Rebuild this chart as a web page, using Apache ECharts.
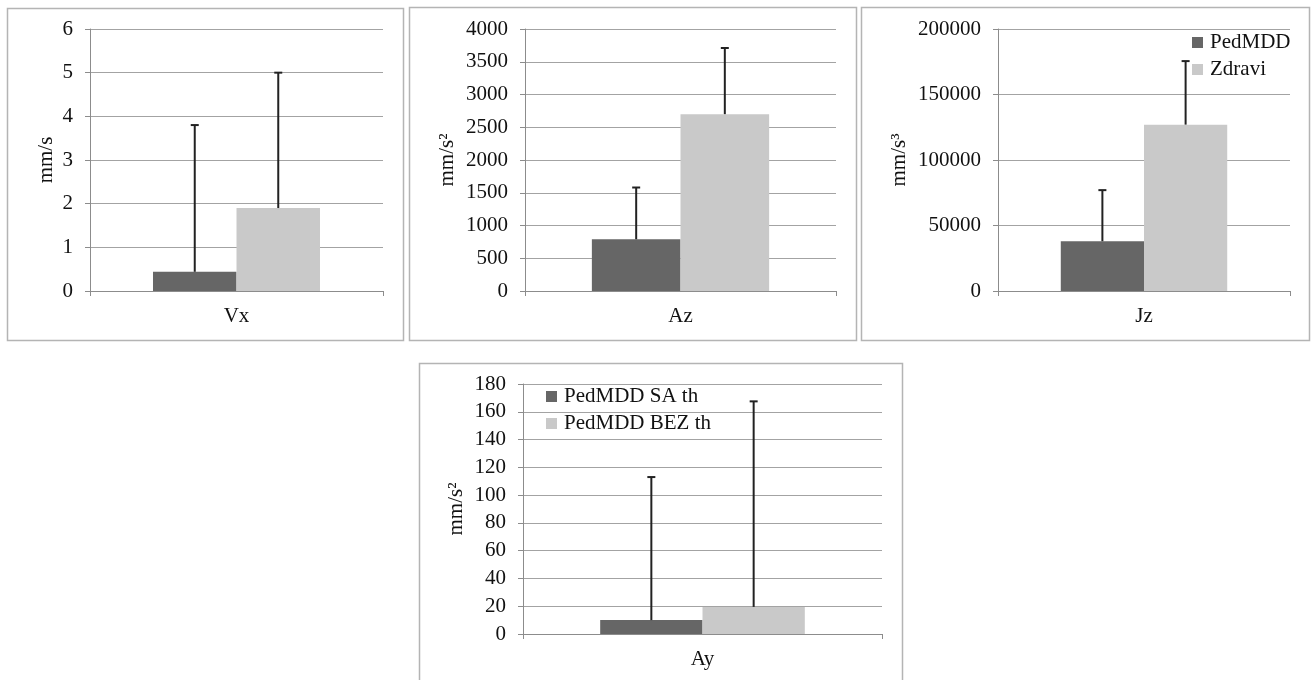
<!DOCTYPE html>
<html>
<head>
<meta charset="utf-8">
<script src="https://cdn.jsdelivr.net/npm/echarts@6/dist/echarts.min.js"></script>
<style>
  html, body { margin: 0; padding: 0; background: #ffffff; }
  #chart { width: 1312px; height: 680px; }
</style>
</head>
<body>
<div id="chart"></div>
<script>
// ---- data ----
const categories = ['Vx', 'Az', 'Jz', 'Ay'];
const yAxisNames = ['mm/s', 'mm/s\u00B2', 'mm/s\u00B3', 'mm/s\u00B2'];
const seriesNamesTop = ['PedMDD', 'Zdravi'];
const seriesNamesBottom = ['PedMDD SA th', 'PedMDD BEZ th'];
const darkMeans = [0.44, 790, 38000, 10];
const darkSD = [3.36, 790, 39000, 103];
const lightMeans = [1.9, 2700, 127000, 19.5];
const lightSD = [3.1, 1010, 48500, 148];
const yMax = [6, 4000, 200000, 180];
const yInterval = [1, 500, 50000, 20];

// ---- styles ----
const FONT = 'Liberation Serif';
const TEXT = '#111111';
const DARK = '#666666';
const LIGHT = '#c9c9c9';
const GRID_COLOR = '#a3a3a3';
const GAP = 0.43;

const grids = [
  { left: 90, width: 293, top: 29, height: 262 },
  { left: 525, width: 311, top: 29, height: 262 },
  { left: 998, width: 292, top: 29, height: 262 },
  { left: 523, width: 359, top: 384, height: 250 }
];
const nameGaps = [33, 67, 88, 56];

const xAxes = [], yAxes = [], series = [];
for (let p = 0; p < 4; p++) {
  xAxes.push({
    type: 'category', gridIndex: p, data: [categories[p]],
    axisLine: { lineStyle: { color: '#8c8c8c', width: 1 } },
    axisTick: { show: true, length: 5, lineStyle: { color: '#8c8c8c' } },
    axisLabel: { fontFamily: FONT, fontSize: 21, color: TEXT, margin: 15 }
  });
  yAxes.push({
    type: 'value', gridIndex: p, min: 0, max: yMax[p], interval: yInterval[p],
    name: yAxisNames[p], nameLocation: 'middle', nameRotate: 90, nameGap: nameGaps[p],
    nameTextStyle: { fontFamily: FONT, fontSize: 21, color: TEXT },
    axisLine: { show: true, lineStyle: { color: '#8c8c8c', width: 1 } },
    axisTick: { show: true, length: 5, lineStyle: { color: '#8c8c8c' } },
    axisLabel: {
      fontFamily: FONT, fontSize: 21, color: TEXT, margin: 17,
      formatter: function (v) { return String(v); }
    },
    splitLine: { show: true, lineStyle: { color: GRID_COLOR, width: 1 } }
  });
  const names = p < 3 ? seriesNamesTop : seriesNamesBottom;
  series.push({
    type: 'bar', name: names[0], xAxisIndex: p, yAxisIndex: p,
    data: [darkMeans[p]], itemStyle: { color: DARK },
    barGap: 0, barCategoryGap: (GAP * 100) + '%', animation: false
  });
  series.push({
    type: 'bar', name: names[1], xAxisIndex: p, yAxisIndex: p,
    data: [lightMeans[p]], itemStyle: { color: LIGHT },
    barGap: 0, barCategoryGap: (GAP * 100) + '%', animation: false
  });
  series.push({
    type: 'custom', xAxisIndex: p, yAxisIndex: p, silent: true, animation: false,
    z: 5,
    data: [
      [0, darkMeans[p], darkMeans[p] + darkSD[p], 0],
      [0, lightMeans[p], lightMeans[p] + lightSD[p], 1]
    ],
    renderItem: function (params, api) {
      const band = api.size([1, 0])[0];
      const barW = band * (1 - GAP) / 2;
      const cx = api.coord([api.value(0), 0])[0] + (api.value(3) === 0 ? -barW / 2 : barW / 2);
      const yBase = api.coord([api.value(0), api.value(1)])[1];
      const yTop = api.coord([api.value(0), api.value(2)])[1];
      const style = { stroke: '#222222', lineWidth: 2 };
      return {
        type: 'group',
        children: [
          { type: 'line', shape: { x1: cx, y1: yBase, x2: cx, y2: yTop }, style: style },
          { type: 'line', shape: { x1: cx - 4, y1: yTop, x2: cx + 4, y2: yTop }, style: style }
        ]
      };
    }
  });
}

const legendText = { fontFamily: FONT, fontSize: 21, color: TEXT, padding: [0, 0, 0, 2] };
const panelBorders = [
  [7, 8, 396, 332], [409, 7, 447, 333], [861, 7, 448, 333], [419, 363, 483, 330]
].map(function (r) {
  return {
    type: 'rect', silent: true, z: -1,
    shape: { x: r[0] + 0.5, y: r[1] + 0.5, width: r[2], height: r[3] },
    style: { fill: 'none', stroke: '#b4b4b4', lineWidth: 1.5 }
  };
});

const option = {
  backgroundColor: '#ffffff',
  animation: false,
  grid: grids.map(function (g) { return Object.assign({ containLabel: false }, g); }),
  xAxis: xAxes,
  yAxis: yAxes,
  legend: [
    {
      data: seriesNamesTop, orient: 'vertical', left: 1192, top: 32, padding: 0,
      itemWidth: 11, itemHeight: 11, itemGap: 6, icon: 'rect', textStyle: legendText,
      selectedMode: false
    },
    {
      data: seriesNamesBottom, orient: 'vertical', left: 546, top: 386, padding: 0,
      itemWidth: 11, itemHeight: 11, itemGap: 6, icon: 'rect', textStyle: legendText,
      selectedMode: false
    }
  ],
  graphic: panelBorders,
  series: series
};

const chart = echarts.init(document.getElementById('chart'), null, { renderer: 'canvas' });
chart.setOption(option);
</script>
</body>
</html>
